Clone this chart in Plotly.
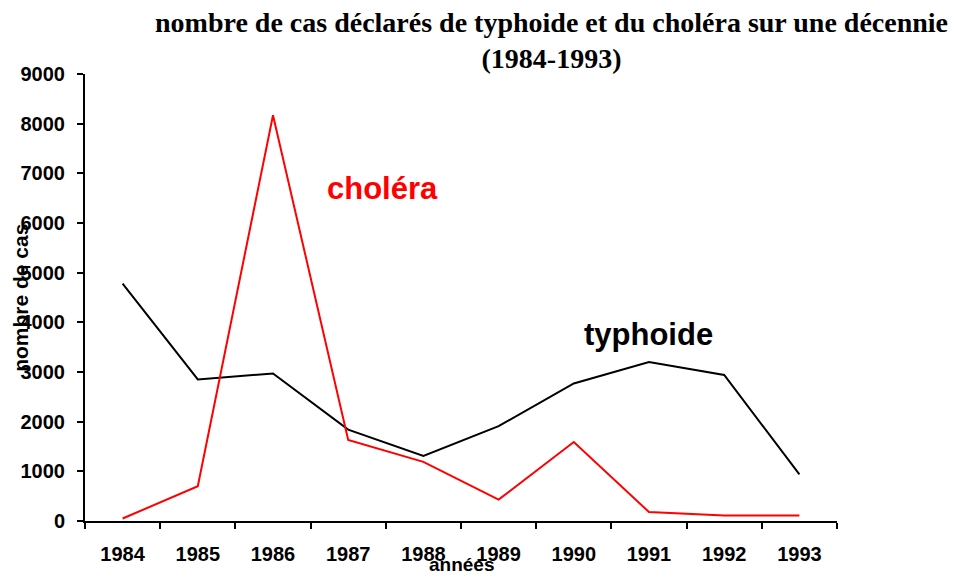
import plotly.graph_objects as go

annees = ['1984', '1985', '1986', '1987', '1988', '1989', '1990', '1991', '1992', '1993']
typhoide = [4780, 2850, 2970, 1840, 1310, 1910, 2770, 3200, 2940, 940]
cholera = [50, 700, 8170, 1630, 1190, 430, 1590, 180, 110, 110]

sans = 'Liberation Sans, Arial, sans-serif'

fig = go.Figure()

fig.add_trace(go.Scatter(
    x=annees, y=typhoide, mode='lines', name='typhoide',
    line=dict(color='black', width=2)
))
fig.add_trace(go.Scatter(
    x=annees, y=cholera, mode='lines', name='choléra',
    line=dict(color='#FF0000', width=2)
))

# étiquettes des séries dans le graphique
fig.add_annotation(x=3.45, y=6700, text='<b>choléra</b>', showarrow=False,
                   xref='x', yref='y', font=dict(family=sans, size=31, color='#FF0000'))
fig.add_annotation(x=6.99, y=3750, text='<b>typhoide</b>', showarrow=False,
                   xref='x', yref='y', font=dict(family=sans, size=31, color='black'))

# titre sur deux lignes
fig.add_annotation(
    x=0.621, y=1, xref='paper', yref='paper', xanchor='center', yanchor='bottom',
    yshift=-2, showarrow=False,
    text='<b>nombre de cas déclarés de typhoide et du choléra sur une décennie<br>(1984-1993)</b>',
    font=dict(family='Liberation Serif, Times New Roman, serif', size=28, color='black')
)

# titres des axes
fig.add_annotation(x=-0.086, y=0.5, xref='paper', yref='paper', textangle=-90,
                   xanchor='center', yanchor='middle',
                   showarrow=False, text='<b>nombre de cas</b>',
                   font=dict(family=sans, size=21, color='black'))
fig.add_annotation(x=0.5, y=-0.098, xref='paper', yref='paper', yanchor='middle',
                   xanchor='center',
                   showarrow=False, text='<b>années</b>',
                   font=dict(family=sans, size=19, color='black'))

fig.update_xaxes(
    type='category', range=[-0.5, 9.5], tickson='boundaries', automargin=False,
    ticks='outside', ticklen=6, tickwidth=2, tickcolor='black',
    showline=True, linecolor='black', linewidth=2, showgrid=False, zeroline=False,
    tickfont=dict(family=sans, size=20, color='black', weight='bold'), ticklabelstandoff=14
)
fig.update_yaxes(
    range=[0, 9000], tickvals=[0, 1000, 2000, 3000, 4000, 5000, 6000, 7000, 8000, 9000],
    automargin=False,
    ticks='outside', ticklen=6, tickwidth=2, tickcolor='black',
    showline=True, linecolor='black', linewidth=2, showgrid=False, zeroline=False,
    tickfont=dict(family=sans, size=20, color='black', weight='bold'), ticklabelstandoff=8
)

# la page ajoute une marge de 8 px autour de la figure
fig.update_layout(
    width=956, height=574,
    margin=dict(l=77, r=127, t=66, b=61),
    plot_bgcolor='white', paper_bgcolor='white',
    showlegend=False
)

fig.write_html("out.html")
